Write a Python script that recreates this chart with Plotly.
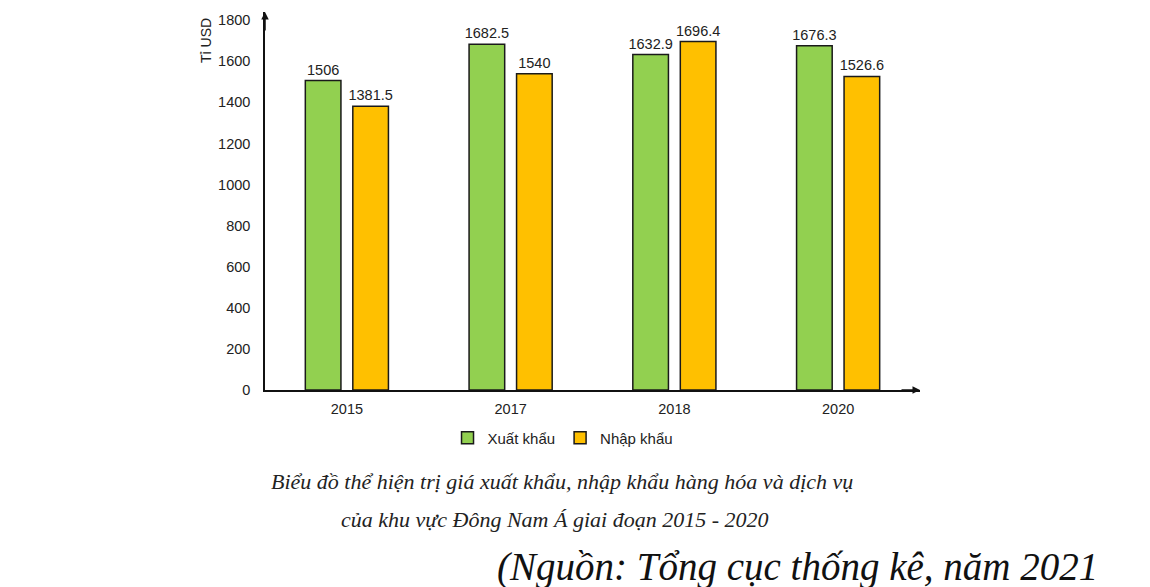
import plotly.graph_objects as go

years = ["2015", "2017", "2018", "2020"]
xuat_khau = [1506, 1682.5, 1632.9, 1676.3]
nhap_khau = [1381.5, 1540, 1696.4, 1526.6]
y_ticks = [0, 200, 400, 600, 800, 1000, 1200, 1400, 1600, 1800]

def fmt(v):
    return str(int(v)) if float(v).is_integer() else str(v)

def px_x(p):
    return (p - 265) / 655

def px_y(p):
    return (390 - p) / 378

fig = go.Figure()
fig.add_trace(go.Bar(
    x=years, y=xuat_khau, name="Xuất khẩu",
    marker=dict(color="#92D050", line=dict(color="#1a1a1a", width=1.5)),
    text=[fmt(v) for v in xuat_khau], textposition="outside", constraintext="none",
    textfont=dict(family="Liberation Sans", size=14.5, color="#222"),
    cliponaxis=False,
))
fig.add_trace(go.Bar(
    x=years, y=nhap_khau, name="Nhập khẩu",
    marker=dict(color="#FFC000", line=dict(color="#1a1a1a", width=1.5)),
    text=[fmt(v) for v in nhap_khau], textposition="outside", constraintext="none",
    textfont=dict(family="Liberation Sans", size=14.5, color="#222"),
    cliponaxis=False,
))

fig.update_layout(
    width=1142, height=579,
    margin=dict(l=257, r=230, t=4, b=197),
    paper_bgcolor="white", plot_bgcolor="white",
    barmode="group", bargap=0.42, bargroupgap=0.25,
    font=dict(family="Liberation Sans", size=14.5, color="#222"),
    showlegend=True,
    legend=dict(orientation="h", x=0.455, xanchor="center", y=px_y(438), yanchor="middle",
                font=dict(size=15, color="#222"), itemwidth=30, traceorder="normal"),
    xaxis=dict(showline=True, linecolor="#111", linewidth=1.5, showgrid=False,
               ticks="", ticklabelstandoff=5, range=[-0.5, 3.5]),
    yaxis=dict(showline=True, linecolor="#111", linewidth=1.5, showgrid=False,
               range=[0, 1840], tickvals=y_ticks, ticks="", ticklabelstandoff=10,
               zeroline=False),
)

# axis arrows
fig.add_annotation(x=0, y=1, xref="paper", yref="paper", text="", showarrow=True,
                   ax=0, ay=20, arrowhead=2, arrowsize=1, arrowwidth=1.5, arrowcolor="#111")
fig.add_annotation(x=1, y=0, xref="paper", yref="paper", text="", showarrow=True,
                   ax=-20, ay=0, arrowhead=2, arrowsize=1, arrowwidth=1.5, arrowcolor="#111")

# y-axis title
fig.add_annotation(x=px_x(206), y=px_y(41), xref="paper", yref="paper",
                   xanchor="center", yanchor="middle",
                   text="Tỉ USD", textangle=-90, showarrow=False,
                   font=dict(family="Liberation Sans", size=14, color="#222"))

# captions
fig.add_annotation(x=px_x(562), y=px_y(481), xref="paper", yref="paper",
                   xanchor="center", yanchor="middle",
                   text="<i>Biểu đồ thể hiện trị giá xuất khẩu, nhập khẩu hàng hóa và dịch vụ</i>",
                   showarrow=False, font=dict(family="Liberation Serif", size=22, color="#222"))
fig.add_annotation(x=px_x(555), y=px_y(519), xref="paper", yref="paper",
                   xanchor="center", yanchor="middle",
                   text="<i>của khu vực Đông Nam Á giai đoạn 2015 - 2020</i>",
                   showarrow=False, font=dict(family="Liberation Serif", size=22, color="#222"))
fig.add_annotation(x=px_x(797), y=px_y(567), xref="paper", yref="paper",
                   xanchor="center", yanchor="middle",
                   text="<i>(Nguồn: Tổng cục thống kê, năm 2021</i>",
                   showarrow=False, font=dict(family="Liberation Serif", size=39, color="#111"))

fig.write_html("out.html")
